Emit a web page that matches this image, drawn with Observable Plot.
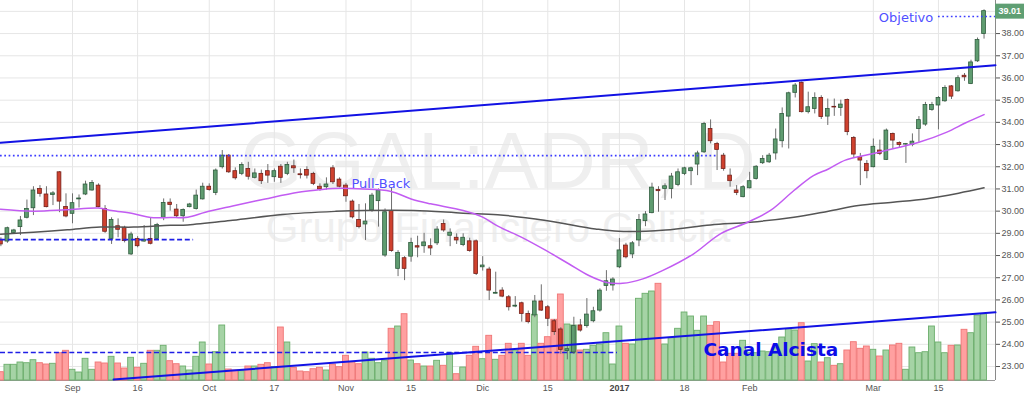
<!DOCTYPE html>
<html><head><meta charset="utf-8">
<script src="https://cdn.jsdelivr.net/npm/d3@7"></script>
<script src="https://cdn.jsdelivr.net/npm/@observablehq/plot@0.6"></script>
<style>
html,body{margin:0;padding:0;background:#fff;}
#chart{position:relative;width:1024px;height:396px;overflow:hidden;background:#fff;}
#chart svg{position:absolute;left:0;top:0;}
</style></head><body><div id="chart"></div>
<script>
// Session index 0 = 1 Sep 2016; first session shown is index -11 (17 Aug 2016), last is 24 Mar 2017
const FIRST = -11;
const open = [28.71,28.63,29.02,29.28,29.70,30.13,31.00,30.75,30.73,31.75,30.19,
29.88,30.53,30.75,30.93,31.15,30.10,28.75,29.32,29.25,28.05,
28.75,28.63,28.75,28.75,29.70,30.38,30.07,29.77,30.18,30.10,
30.53,31.10,30.82,31.98,32.50,31.80,31.68,31.90,31.50,31.68,
31.80,31.53,32.00,31.68,32.02,31.66,31.85,31.68,31.10,31.08,
31.93,31.42,31.15,30.43,29.60,29.40,30.03,30.45,28.00,30.00,
27.40,27.88,27.95,28.42,28.42,28.42,28.55,29.42,28.89,28.80,
28.47,28.64,28.64,27.47,27.37,26.28,26.42,26.12,25.70,25.85,
25.37,25.30,25.93,25.67,25.04,24.67,23.70,23.63,24.85,24.82,
25.04,25.52,26.63,26.65,27.47,28.45,28.05,28.68,29.55,29.91,
30.95,31.00,31.00,31.18,31.68,31.80,32.10,32.65,33.70,33.03,
32.50,31.60,30.93,30.63,31.03,31.45,32.16,32.20,32.60,33.15,
34.26,35.33,35.78,34.46,34.60,35.10,34.26,34.70,34.65,35.01,
33.30,32.43,32.13,31.98,32.73,32.31,33.48,33.07,33.00,32.98,
33.70,33.90,34.56,34.76,34.95,35.62,35.40,36.10,35.73,36.75,
37.98];
const high = [28.80,29.28,29.18,29.76,30.50,31.10,31.15,31.10,30.88,31.78,30.78,
30.78,30.73,31.35,31.38,31.23,30.25,29.70,29.65,29.32,29.05,
28.85,29.35,29.70,29.45,30.55,30.55,30.30,30.10,30.35,30.95,
31.26,31.23,31.90,32.73,32.55,31.95,32.18,32.20,31.90,31.85,
32.10,31.90,32.10,32.20,32.30,31.90,32.00,31.75,31.23,31.50,
32.05,31.50,31.25,30.50,30.30,30.33,30.80,31.00,30.10,31.05,
28.22,27.95,28.78,28.87,29.00,28.75,29.30,29.60,29.20,28.98,
28.98,28.78,28.70,27.95,27.47,27.25,26.55,26.20,26.15,25.90,
25.50,26.20,26.68,25.75,25.12,24.75,24.00,25.22,25.12,26.06,
25.67,26.50,27.32,27.00,28.77,28.55,28.63,29.85,29.98,31.26,
31.10,31.23,31.70,31.90,31.98,31.98,32.70,34.00,34.11,33.10,
32.60,31.90,31.15,31.15,31.75,32.05,32.50,32.60,33.70,34.65,
35.36,35.75,35.82,35.36,35.33,35.20,35.05,35.05,35.00,35.05,
33.36,32.60,32.28,33.25,33.20,33.70,33.52,33.12,33.05,33.48,
34.26,34.90,34.90,35.16,35.65,35.66,36.10,36.20,36.80,37.80,
39.07];
const low = [28.40,28.55,28.98,28.90,29.65,29.80,30.63,30.15,30.25,29.93,29.70,
29.43,30.14,30.70,30.90,30.15,29.00,28.50,28.80,28.57,28.00,
28.35,28.60,28.48,28.70,29.57,30.00,29.70,29.50,30.15,30.05,
30.50,30.90,30.70,31.90,31.70,31.40,31.60,31.40,31.45,31.20,
31.25,31.30,31.25,31.60,31.70,31.45,31.45,31.15,30.90,30.95,
31.20,31.05,30.40,29.65,29.20,28.68,29.95,29.28,27.92,28.15,
27.05,26.87,27.70,27.90,28.10,28.00,28.45,29.05,28.40,28.50,
28.40,28.15,27.10,27.30,25.97,26.27,26.10,25.50,25.65,25.00,
24.92,25.20,25.48,24.80,24.40,23.55,23.30,23.54,24.55,24.73,
24.97,25.45,26.39,26.40,27.41,27.85,27.86,28.40,29.30,29.88,
29.95,30.48,30.55,31.10,31.60,31.15,31.60,32.60,33.03,31.83,
31.80,31.08,30.70,30.60,31.00,31.40,32.10,32.15,32.30,32.85,
32.80,35.10,34.42,34.38,34.38,34.13,33.86,34.27,34.27,33.40,
32.40,31.15,31.46,31.95,32.50,32.28,32.80,32.85,32.15,32.90,
33.10,33.82,34.50,33.66,34.90,35.03,35.36,35.85,35.70,36.70,
37.75];
const close = [28.50,29.23,29.13,29.58,30.10,30.93,30.78,30.18,30.80,30.43,29.76,
30.36,30.57,31.20,31.27,30.18,29.07,29.60,29.16,28.65,28.95,
28.42,28.71,28.53,29.38,30.37,30.28,29.77,30.05,30.30,30.70,
31.10,30.95,31.83,32.50,31.75,31.48,32.08,31.55,31.70,31.35,
31.60,31.80,31.50,32.08,31.93,31.62,31.60,31.23,30.98,31.20,
31.30,31.10,30.67,29.72,29.28,29.53,30.70,30.93,29.95,28.20,
28.12,27.40,28.57,28.36,28.59,28.32,29.17,29.13,29.03,28.68,
28.80,28.20,27.17,27.55,26.42,26.32,26.15,25.67,25.74,25.37,
25.00,25.93,25.52,25.15,24.55,23.75,23.78,24.82,24.62,25.34,
25.49,26.42,26.84,26.92,28.23,27.92,28.55,29.60,29.85,31.06,
30.90,31.12,31.56,31.75,31.93,31.93,32.60,33.93,33.15,32.76,
31.90,31.35,30.82,31.08,31.35,32.00,32.35,32.50,33.23,34.38,
35.31,35.66,34.46,34.68,35.10,34.24,34.60,34.67,34.80,33.56,
32.55,32.28,31.80,32.90,32.58,33.63,33.18,32.98,33.02,33.13,
34.10,34.78,34.78,35.10,35.55,35.16,35.99,36.03,36.70,37.71,
39.01];
// volume, thousands of shares (estimated)
const volume = [83,157,157,180,173,203,173,160,167,273,297,
107,80,217,107,180,170,237,170,120,227,
127,167,297,297,347,193,163,140,100,237,
380,160,283,550,110,100,93,140,140,157,
173,133,530,380,127,90,83,113,127,100,
160,133,247,183,163,280,217,173,200,517,
540,663,200,163,140,140,197,147,273,63,
130,247,337,213,447,207,247,367,300,367,
247,657,367,433,607,860,560,550,300,307,
347,360,473,160,540,367,360,817,867,890,
967,360,423,517,680,640,497,640,547,583,
180,267,267,397,273,273,290,283,323,430,
513,500,573,190,363,180,223,147,163,300,
383,317,340,307,240,300,350,367,107,330,
273,283,540,380,273,347,350,507,473,650,
663];
// moving averages: [session index, price]
const maFast = [[-11.06,30.09],[-6,30.0],[-1,30.06],[4,30.14],[6,30.03],[9.4,29.88],[12,29.71],[15,29.71],[17.7,29.73],[20.4,29.95],[24.6,30.23],[29.6,30.55],[34.7,30.85],[37.8,30.96],[40,31.02],[44.7,31.0],[48.8,30.9],[52,30.55],[55,30.33],[60,30.03],[63,29.73],[65.4,29.31],[69,28.82],[72.7,28.23],[76.2,27.63],[79.3,27.1],[81.9,26.8],[84.5,26.75],[87.6,26.95],[90.6,27.32],[95.4,28.08],[99.5,28.98],[103.7,29.5],[107.2,30.03],[110.8,30.93],[113.8,31.6],[116.1,31.9],[118.7,32.3],[122.3,32.55],[126,32.81],[130,33.1],[134.2,33.55],[137.2,33.98],[140,34.35]];
const maSlow = [[-11.06,28.96],[-6,29.05],[-0.8,29.16],[4.3,29.28],[9.4,29.28],[15,29.36],[17.7,29.38],[24.6,29.59],[32.3,29.85],[40.4,29.99],[44.7,30.03],[52.4,30.03],[60,29.91],[65.3,29.84],[72.7,29.58],[80.3,29.2],[83.9,29.09],[91.1,29.15],[98,29.38],[104.1,29.5],[110.8,29.73],[116.1,30.0],[120.7,30.25],[126,30.4],[131,30.55],[136.1,30.81],[140,31.05]];
// drawn trend lines / levels
const upperChannel = [[-11.06,33.08],[141.76,36.57]];
const lowerChannel = [[6.3,22.415],[141.76,25.44]];
const levels = [
  {p:32.5, from:-11.06, to:99.06, kind:"dot"},
  {p:38.77, from:133, to:141.76, kind:"dot"},
  {p:28.72, from:-11.06, to:18.6, kind:"dash"}
];
const volumeLevel = {v:280, from:-11.06, to:83.7};
const annotations = [
  {text:"Objetivo", k:132.2, p:38.71},
  {text:"Pull-Back", k:42.85, p:31.24}
];
const channelLabel = {text:"Canal Alcista", k:96.9, p:23.72};
// axis ticks
const xTickIdx = [0,10,21,31,42,52,63,73,84,94,104,123,133];
const xTickLabels = ["Sep","16","Oct","17","Nov","15","Dic","15","2017","18","Feb","Mar","15"];
const priceTicks = [23,24,25,26,27,28,29,30,31,32,33,34,35,36,37,38];
const gridPrices = [23,24,25,26,27,28,29,30,31,32,33,34,35,36,37,38,39];
const watermark = ["GGAL:ADR, D", "Grupo Financiero Galicia"];

const sessions = open.map((o,i)=>({k:i+FIRST, o, h:high[i], l:low[i], c:close[i], v:volume[i]}));
const up = sessions.filter(d=>d.c>=d.o), down = sessions.filter(d=>d.c<d.o);
const xTicks = xTickIdx.map((k,i)=>({k, label:xTickLabels[i]}));

const xDomain = [-11.06, 141.76];
const yDomain = [22.37, 39.49];
const frame = {width:1024, height:396, marginLeft:0, marginRight:29, marginTop:0, marginBottom:16,
  style:{background:"transparent", overflow:"visible"}};
const X = {type:"linear", domain:xDomain, axis:null};
const FONT = "Liberation Sans, Arial, sans-serif";
const DV = "DejaVu Sans, sans-serif";

const base = Plot.plot({...frame, x:X, y:{domain:yDomain},
  marks:[
    Plot.text([watermark[0]], {text:d=>d, frameAnchor:"top", dy:187, lineAnchor:"bottom", fontSize:80, fill:"#efefef", fontFamily:FONT}),
    Plot.text([watermark[1]], {text:d=>d, frameAnchor:"top", dy:241, lineAnchor:"bottom", fontSize:42, fill:"#efefef", fontFamily:FONT}),
    Plot.ruleY(gridPrices, {stroke:"#e6e6e6"}),
    Plot.ruleX(xTicks, {x:"k", stroke:"#e6e6e6"}),
    Plot.ruleX([xDomain[1]], {stroke:"#8a8a8a"}),
    Plot.ruleY([yDomain[0]], {stroke:"#9a9a9a"}),
    Plot.axisY({ticks:priceTicks, anchor:"right", tickFormat:d3.format(".2f"), tickSize:4, tickPadding:2, fontSize:9, color:"#555", fontFamily:FONT, label:null}),
    Plot.text(xTicks.filter(d=>d.label!=="2017"), {x:"k", text:"label", frameAnchor:"bottom", dy:10, fontSize:9, fill:"#555", fontFamily:FONT}),
    Plot.text(xTicks.filter(d=>d.label==="2017"), {x:"k", text:"label", frameAnchor:"bottom", dy:10, fontSize:9, fontWeight:"bold", fill:"#444", fontFamily:FONT})
  ]});

const vol = Plot.plot({...frame, x:X, y:{domain:[0,3800], axis:null},
  marks:[
    Plot.rect(up, {x1:d=>d.k-0.45, x2:d=>d.k+0.45, y1:0, y2:"v", fill:"#a5d3a5", stroke:"#6cae6c", strokeWidth:0.9}),
    Plot.rect(down, {x1:d=>d.k-0.45, x2:d=>d.k+0.45, y1:0, y2:"v", fill:"#ffa0a0", stroke:"#ef7575", strokeWidth:0.9}),
    Plot.ruleY([volumeLevel], {y:"v", x1:"from", x2:"to", stroke:"#1f1fe6", strokeWidth:1.7, strokeDasharray:"5,2.7"})
  ]});

const last = sessions[sessions.length-1];
const price = Plot.plot({...frame, x:X, y:{domain:yDomain, axis:null},
  marks:[
    Plot.ruleX(sessions, {x:"k", y1:"l", y2:"h", stroke:"#6e6e6e", strokeWidth:1}),
    Plot.rect(up, {x1:d=>d.k-0.29, x2:d=>d.k+0.29, y1:"o", y2:"c", fill:"#5f9c70", stroke:"#2f5c3e", strokeWidth:0.8}),
    Plot.rect(down, {x1:d=>d.k-0.29, x2:d=>d.k+0.29, y1:"o", y2:"c", fill:"#cf412e", stroke:"#74201a", strokeWidth:0.8}),
    Plot.line(maSlow, {x:d=>d[0], y:d=>d[1], stroke:"#555", strokeWidth:1.5, curve:"catmull-rom"}),
    Plot.line(maFast, {x:d=>d[0], y:d=>d[1], stroke:"#c25cf2", strokeWidth:1.5, curve:"catmull-rom"}),
    Plot.line(upperChannel, {x:d=>d[0], y:d=>d[1], stroke:"#1212e4", strokeWidth:2}),
    Plot.line(lowerChannel, {x:d=>d[0], y:d=>d[1], stroke:"#1212e4", strokeWidth:2}),
    Plot.ruleY(levels.filter(d=>d.kind==="dot"), {y:"p", x1:"from", x2:"to", stroke:"#3c3cff", strokeWidth:1.7, strokeDasharray:"1.7,2.6"}),
    Plot.ruleY(levels.filter(d=>d.kind==="dash"), {y:"p", x1:"from", x2:"to", stroke:"#1f1fe6", strokeWidth:1.7, strokeDasharray:"5,2.7"}),
    Plot.text(annotations.slice(0,1), {x:"k", y:"p", text:"text", textAnchor:"end", fontSize:13, fill:"#5050ff", fontFamily:DV}),
    Plot.text(annotations.slice(1), {x:"k", y:"p", text:"text", textAnchor:"start", fontSize:13, fill:"#5050ff", fontFamily:DV}),
    Plot.text([channelLabel], {x:"k", y:"p", text:"text", textAnchor:"start", fontSize:18.5, fontWeight:"bold", fill:"#0c0ce8", fontFamily:DV}),
    Plot.ruleY([last], {y:"c", x1:xDomain[1], x2:xDomain[1]+4.45, stroke:"#5f9f73", strokeWidth:15}),
    Plot.text([last], {y:"c", frameAnchor:"right", textAnchor:"start", dx:3, text:d=>d.c.toFixed(2), fill:"#fff", fontWeight:"bold", fontSize:9, fontFamily:FONT})
  ]});

const root = document.getElementById("chart");
root.append(base, vol, price);
</script>
</body></html>
